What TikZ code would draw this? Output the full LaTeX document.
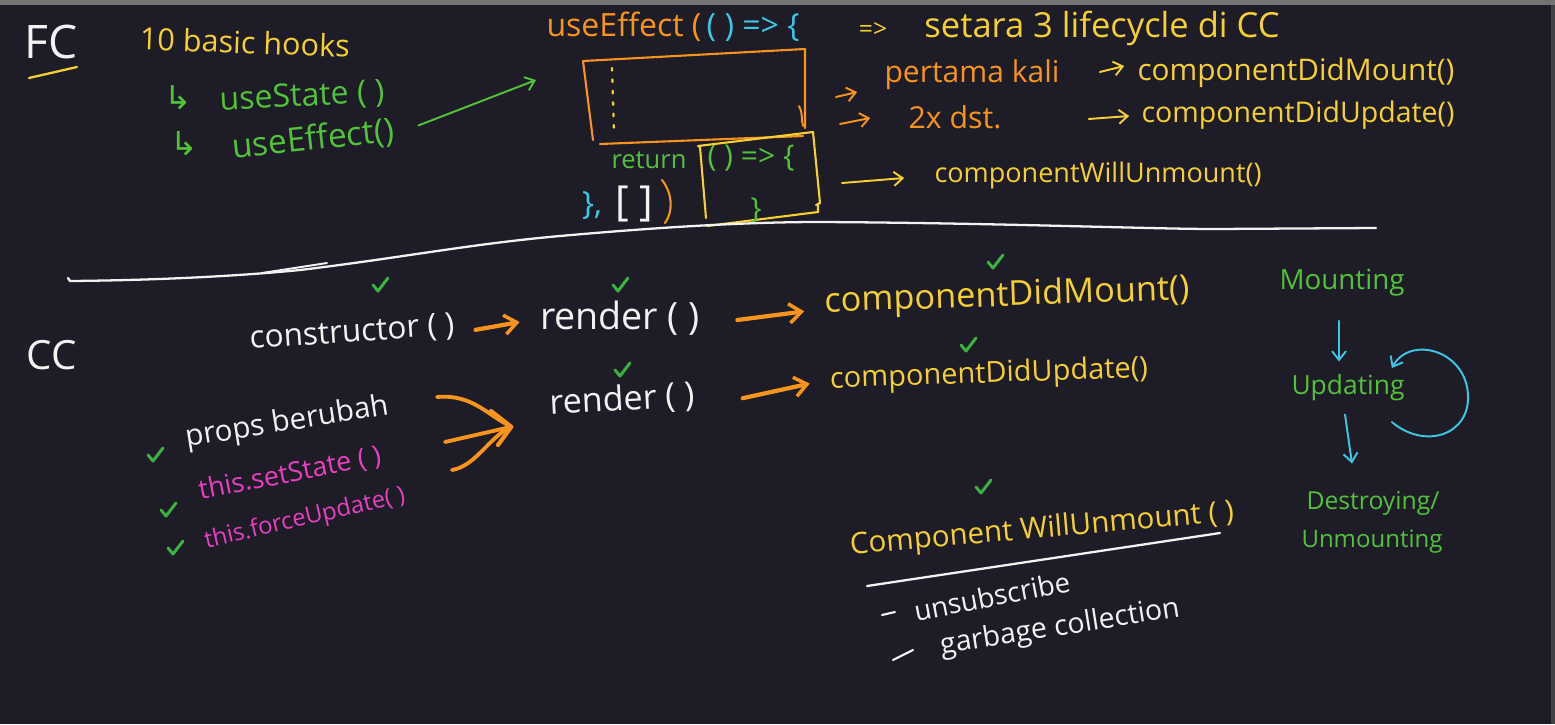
\documentclass[tikz,border=0pt]{standalone}
\usepackage{fontspec}
\setmainfont{Open Sans}
\newfontfamily\symf{DejaVu Sans}
\usepackage{graphicx}
\usetikzlibrary{arrows.meta,calc}
\newlength\pxu \setlength\pxu{0.02cm}
\newcommand\hw[2]{\resizebox{#1\pxu}{!}{#2}}
\newcommand\hh[2]{\resizebox{!}{#1\pxu}{#2}}
\definecolor{bgc}{HTML}{1E1C26}
\definecolor{hy}{HTML}{F5D033}
\definecolor{ho}{HTML}{F7941D}
\definecolor{hg}{HTML}{52C23A}
\definecolor{hc}{HTML}{3FC6E4}
\definecolor{hm}{HTML}{E840C0}
\definecolor{hw}{HTML}{F2F2F2}
\definecolor{ck}{HTML}{3CB043}
\begin{document}
\begin{tikzpicture}[x=0.02cm,y=-0.02cm,
  t/.style={inner sep=0pt, anchor=center},
  ar/.style={-{Straight Barb[length=5pt,width=8pt]}, line width=1.1pt, line cap=round},
  bar/.style={-{Straight Barb[length=7pt,width=11pt,line width=2pt]}, line width=2.4pt, line cap=round, draw=ho},
  chk/.pic={\draw[ck, line width=1.7pt, line cap=round, line join=round] (-7,0) -- (-2,6) -- (8,-7);}]
\fill[bgc] (0,0) rectangle (1555,724);
\useasboundingbox (0,0) rectangle (1555,724);
\fill[black!55] (0,0) rectangle (1555,5);
\fill[black!65!white!60!bgc] (1551,5) rectangle (1555,724);

% ---------- FC part ----------
\node[t, text=hw] (fc) at (51,42) {\hw{53}{FC}};
\draw[hy, line width=1.3pt, line cap=round] (29,78) -- (77,67);
\node[t, text=hy, rotate=-2] (hooks) at (245,42) {\hw{210}{10 basic hooks}};
\node[t, text=hg] (h1) at (178,98) {\hh{24}{\symf ↳}};
\node[t, text=hg, rotate=3] (us) at (302,97) {\hw{165}{useState ( )}};
\node[t, text=hg] (h2) at (184,144) {\hh{24}{\symf ↳}};
\node[t, text=hg, rotate=6] (ue) at (313,140) {\hw{163}{useEffect()}};
\coordinate (boxtip) at (536,80);
\draw[ar, hg] ($(ue.east)+(24,-6)$) -- (boxtip);

% useEffect code
\node[t] (uet) at (673,27) {\hw{253}{\textcolor{ho}{useEffect (}\,\textcolor{hc}{( ) => \{}}};
\draw[ho, line width=1.2pt, line join=round, line cap=round] (593,140) -- (583,61) -- (805,49) -- (805,128);
\draw[ho, line width=1.2pt, line cap=round] (600,144) -- (803,136);
\draw[ho, line width=1.1pt, line cap=round] (799,106) .. controls (803,112) and (801,120) .. (803,126);
\draw[hy, line width=1.3pt, dash pattern=on 1.5pt off 5pt, line cap=round] (612,68) -- (614,132);
\node[t, text=hg] (ret) at (649,160) {\hw{75}{return}};
\node[t, text=hg] (arr) at (751,158) {\hw{87}{( ) => \{}};
\draw[hy, line width=1.2pt, line join=round, line cap=round] (706,218) -- (700,147) -- (698,146) -- (813,132) -- (820,203) -- (816,205);
\draw[hy, line width=1.2pt, line cap=round] (707,226) -- (818,212) -- (818,204);
\node[t, text=hg] (cb) at (756,210) {\hw{11}{\}}};
\node[t, text=hc] (cb2) at (592,206) {\hw{20}{\},}};
\node[t, text=hw] (br) at (634,204) {\hw{38}{[ ]}};
\draw[ho, line width=1.2pt, line cap=round] (662,180) .. controls (673,194) and (673,212) .. (665,223);

% right of top
\node[t, text=hy] (eq) at (873,30) {\hh{15}{=>}};
\node[t, text=hy] (setara) at (1102,28) {\hw{355}{setara 3 lifecycle di CC}};
\coordinate (ebox1) at (805,90);
\coordinate (ebox2) at (805,120);
\coordinate (ybox) at (820,183);
\node[t, text=ho] (pk) at (972,75) {\hw{175}{pertama kali}};
\node[t, text=ho] (dst) at (955,117) {\hh{23}{2x dst.}};
\node[t, text=hy] (cdm1) at (1296,73) {\hw{317}{componentDidMount()}};
\node[t, text=hy] (cdu1) at (1298,115) {\hw{313}{componentDidUpdate()}};
\node[t, text=hy] (cwu1) at (1098,175) {\hw{327}{componentWillUnmount()}};
\draw[ar, ho] ($(ebox1)+(31,7)$) -- ($(pk.west)+(-27,17)$);
\draw[ar, ho] ($(ebox2)+(35,4)$) -- ($(dst.west)+(-38,1)$);
\draw[ar, hy] ($(pk.east)+(40,-3)$) -- ($(cdm1.west)+(-13,-7)$);
\draw[ar, hy] ($(dst.east)+(87,2)$) -- ($(cdu1.west)+(-12,1)$);
\draw[ar, hy] ($(ybox)+(22,0)$) -- ($(cwu1.west)+(-30,3)$);

% divider
\draw[hw, line width=1.3pt, line cap=round] (68,278) -- (70,281) .. controls (180,280) and (260,274) .. (300,270) .. controls (400,258) and (470,244) .. (560,236) .. controls (650,228) and (740,222) .. (820,222) .. controls (1000,223) and (1150,229) .. (1215,229) -- (1376,228);
\draw[hw, line width=1.1pt, line cap=round] (262,273) -- (327,263);

% ---------- CC part ----------
\node[t, text=hw] (cc) at (52,355) {\hw{50}{CC}};
\node[t, text=hw, rotate=4] (ctor) at (352,333) {\hw{205}{constructor ( )}};
\node[t, text=hw] (r1) at (620,318) {\hw{160}{render ( )}};
\node[t, text=hy, rotate=2] (cdm2) at (1007,297) {\hw{365}{componentDidMount()}};
\node[t, text=hw, rotate=3] (r2) at (622,400) {\hw{145}{render ( )}};
\node[t, text=hy, rotate=2] (cdu2) at (989,375) {\hw{318}{componentDidUpdate()}};
\draw[bar] ($(ctor.east)+(21,4)$) -- ($(r1.west)+(-20,4)$);
\draw[bar] ($(r1.east)+(37,2)$) -- ($(cdm2.west)+(-20,8)$);
\draw[bar] ($(r2.east)+(48,2)$) -- ($(cdu2.west)+(-20,3)$);

\node[t, text=hw, rotate=9] (props) at (287,423) {\hw{205}{props berubah}};
\node[t, text=hm, rotate=11] (ss) at (290,474) {\hw{185}{this.setState ( )}};
\node[t, text=hm, rotate=13] (fu) at (305,519) {\hw{205}{this.forceUpdate( )}};
\coordinate (m1) at (437,397);
\coordinate (m2) at (445,442);
\coordinate (m3) at (452,470);
\coordinate (mt) at ($(r2.west)+(-38,23)$);
\draw[ho, line width=2.2pt, line cap=round] (m1) .. controls (472,394) and (486,414) .. (mt);
\draw[ho, line width=2.2pt, line cap=round] (m2) -- (mt);
\draw[ho, line width=2.2pt, line cap=round] (m3) .. controls (476,466) and (490,436) .. (mt);
\draw[ho, line width=2.4pt, line cap=round, line join=round] (491,411) -- (mt) -- (498,445);

\pic at (380,285) {chk};
\pic at (620,285) {chk};
\pic at (995,262) {chk};
\pic at (968,345) {chk};
\pic at (622,370) {chk};
\pic at (155,455) {chk};
\pic at (168,510) {chk};
\pic at (175,548) {chk};
\pic at (983,487) {chk};

% unmount
\node[t, text=hy, rotate=5] (cwu2) at (1042,530) {\hw{385}{Component WillUnmount ( )}};
\draw[hw, line width=1.3pt, line cap=round] (867,586) -- (1220,533);
\draw[hw, line width=1.2pt, line cap=round] (882,615) -- (895,612);
\node[t, text=hw, rotate=11] (uns) at (992,596) {\hw{158}{unsubscribe}};
\draw[hw, line width=1.2pt, line cap=round] (893,660) -- (913,650);
\node[t, text=hw, rotate=9] (gc) at (1060,628) {\hw{242}{garbage collection}};

% lifecycle phases
\node[t, text=hg] (mnt) at (1342,283) {\hw{125}{Mounting}};
\node[t, text=hg] (upd) at (1348,388) {\hw{113}{Updating}};
\node[t, text=hg] (des) at (1373,503) {\hw{133}{Destroying/}};
\node[t, text=hg] (unm) at (1372,542) {\hw{141}{Unmounting}};
\draw[ar, hc] ($(mnt.south)+(-3,24)$) -- ($(upd.north)+(-9,-13)$);
\draw[ar, hc] ($(upd.south)+(-3,13)$) -- ($(des.north)+(-21,-27)$);
\draw[ar, hc] ($(upd.east)+(-13,34)$) .. controls (1425,450) and (1470,435) .. (1468,395) .. controls (1466,350) and (1410,335) .. ($(upd.east)+(-13,-20)$);
\end{tikzpicture}
\end{document}
